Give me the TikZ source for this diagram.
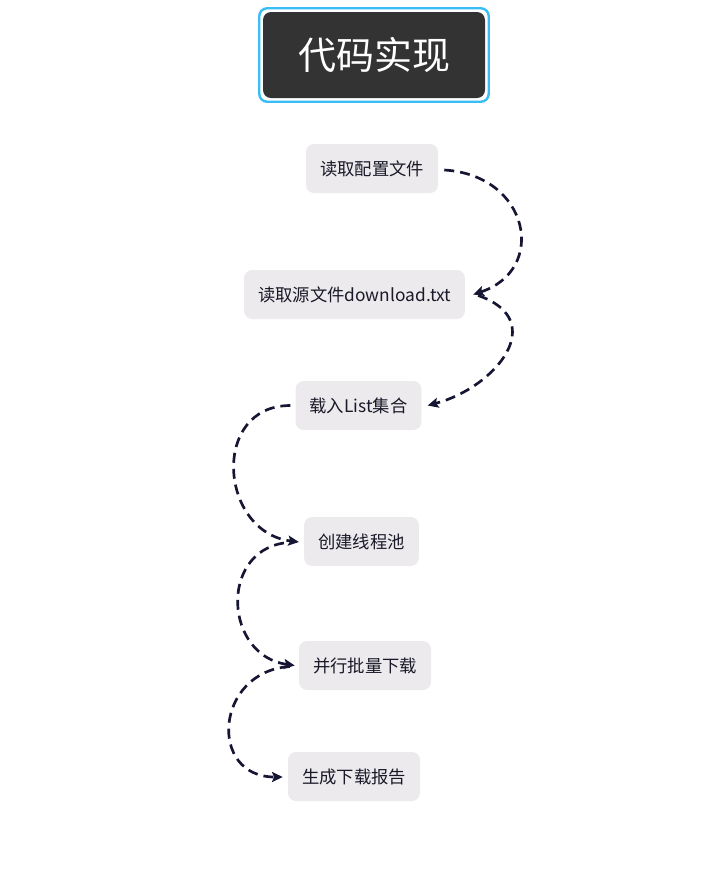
\documentclass[tikz,border=0pt]{standalone}
\usepackage{fontspec}
\setmainfont{Noto Sans CJK SC}
\usetikzlibrary{calc,arrows.meta}
\definecolor{linec}{RGB}{22,22,52}
\definecolor{nodefill}{RGB}{236,234,237}
\definecolor{textc}{RGB}{25,25,40}
\definecolor{titlefill}{RGB}{51,51,51}
\definecolor{titleedge}{RGB}{56,190,245}
\tikzset{
  stepbox/.style={fill=nodefill, rounded corners=6pt, text=textc, inner xsep=10.5pt,
    minimum height=36.75pt, font=\fontsize{13}{15}\selectfont},
  flow/.style={draw=linec, line width=2pt, dash pattern=on 7.5pt off 4.5pt,
    -{Stealth[length=8pt,width=7.5pt,inset=1.5pt]}}
}
\begin{document}
\begin{tikzpicture}[x=0.75pt,y=-0.75pt]
\useasboundingbox (0,0) rectangle (726,869);
\node[fill=titlefill, rounded corners=6pt, minimum width=166.5pt, minimum height=64.5pt,
  text=white, font=\fontsize{28.5}{32}\selectfont] (title) at (374,55) {代码实现};
\draw[titleedge, line width=1.8pt, rounded corners=6pt]
  ($(title.south west)+(-3.5,3.5)$) rectangle ($(title.north east)+(3.5,-3.5)$);

\node[stepbox] (n1) at (372,168.5) {读取配置文件};
\node[stepbox] (n2) at (354.5,294.5) {读取源文件download.txt};
\node[stepbox] (n3) at (358.5,405.5) {载入List集合};
\node[stepbox] (n4) at (361.5,541.5) {创建线程池};
\node[stepbox] (n5) at (365,665.5) {并行批量下载};
\node[stepbox] (n6) at (354,776.5) {生成下载报告};

\draw[flow] ($(n1.east)+(6,1.5)$) .. controls +(85,5) and +(75,-25) .. ($(n2.east)+(8,0)$);
\draw[flow] ($(n2.east)+(13,1)$) .. controls +(72,25) and +(68,-18) .. ($(n3.east)+(6,0)$);
\draw[flow] ($(n3.west)+(-5,0)$) .. controls +(-80,0) and +(-80,-10) .. ($(n4.west)+(-5,0.5)$);
\draw[flow] ($(n4.west)+(-20,1.5)$) .. controls +(-65,10) and +(-70,-10) .. ($(n5.west)+(-4,0)$);
\draw[flow] ($(n5.west)+(-9,1)$) .. controls +(-75,5) and +(-75,0) .. ($(n6.west)+(-5,0.5)$);
\end{tikzpicture}
\end{document}
